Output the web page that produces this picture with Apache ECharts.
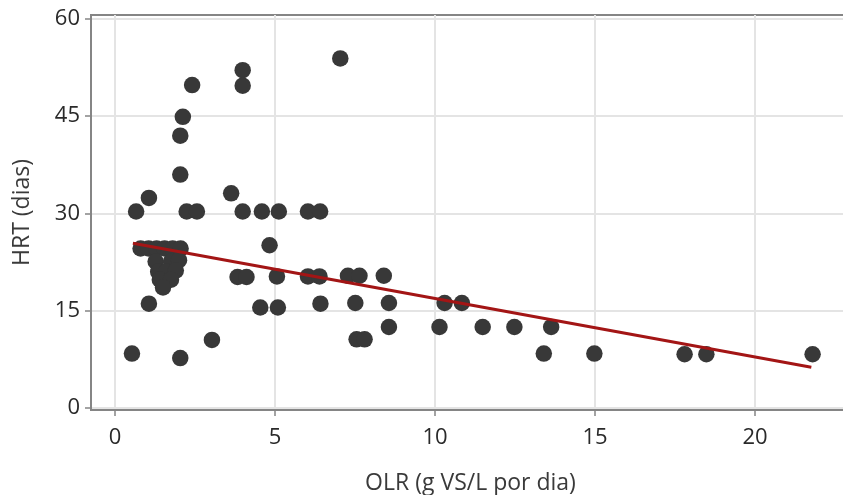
<!DOCTYPE html>
<html>
<head>
<meta charset="utf-8">
<script src="https://cdn.jsdelivr.net/npm/echarts@6/dist/echarts.min.js"></script>
<style>
html,body{margin:0;padding:0;background:#fff;overflow:hidden;}
#chart{width:843px;height:495px;}
</style>
</head>
<body>
<div id="chart"></div>
<script>
// OLR (g VS/L por dia)
const olr = [
  7.04, 3.99, 3.99, 2.41, 2.12, 2.04, 2.04, 3.63, 1.06, 0.66,
  2.24, 2.56, 3.99, 4.59, 5.12, 6.03, 6.41, 4.83, 3.83, 4.11,
  5.06, 6.03, 6.39, 7.28, 7.64, 8.40, 1.06, 4.54, 5.09, 6.42,
  7.51, 8.56, 10.30, 10.84, 8.56, 10.14, 11.49, 12.48, 13.63, 7.55,
  7.80, 3.03, 0.53, 2.04, 13.40, 14.98, 17.80, 18.48, 21.80,
  0.80, 1.05, 1.30, 1.55, 1.80, 2.05,
  1.27, 1.75, 2.00, 1.35, 1.60, 1.90, 1.40, 1.75, 1.50
];
// HRT (dias)
const hrt = [
  53.9, 52.1, 49.7, 49.8, 44.9, 42.0, 36.0, 33.1, 32.4, 30.3,
  30.3, 30.3, 30.3, 30.3, 30.3, 30.3, 30.3, 25.1, 20.2, 20.2,
  20.3, 20.3, 20.3, 20.4, 20.4, 20.4, 16.1, 15.5, 15.5, 16.1,
  16.2, 16.2, 16.2, 16.2, 12.5, 12.5, 12.5, 12.5, 12.5, 10.6,
  10.6, 10.5, 8.4, 7.7, 8.4, 8.4, 8.3, 8.3, 8.3,
  24.6, 24.6, 24.6, 24.6, 24.6, 24.6,
  22.6, 22.6, 22.8, 21.0, 21.0, 21.2, 19.8, 19.8, 18.6
];
// fitted trend line end points [olr, hrt]
const trendOlr = [0.56, 21.76];
const trendHrt = [25.4, 6.28];
const xTicks = [0, 5, 10, 15, 20];
const yTicks = [0, 15, 30, 45, 60];

const points = olr.map((v, i) => [v, hrt[i]]);
const trend = trendOlr.map((v, i) => [v, trendHrt[i]]);

const FONT = 'Open Sans';
const chart = echarts.init(document.getElementById('chart'), null, {renderer: 'canvas'});
chart.setOption({
  animation: false,
  backgroundColor: '#ffffff',
  grid: {
    left: 91, top: 15, width: 772, height: 395,
    outerBoundsMode: 'none',
    containLabel: false,
    show: true, borderColor: '#858585', borderWidth: 2, backgroundColor: 'transparent'
  },
  xAxis: {
    type: 'value',
    min: -0.75, max: 23.375,
    name: 'OLR (g VS/L por dia)',
    nameLocation: 'middle',
    nameGap: 62,
    nameTextStyle: {fontFamily: FONT, fontSize: 23, color: '#3a3a3a', padding: [0, 13, 0, 0]},
    axisLine: {show: true, onZero: false, lineStyle: {color: '#858585', width: 2}},
    axisTick: {show: true, length: 6, customValues: xTicks, lineStyle: {color: '#858585', width: 1.5}},
    axisLabel: {customValues: xTicks, margin: 17, fontFamily: FONT, fontSize: 22, color: '#2a2a2a'},
    splitLine: {show: true, lineStyle: {color: '#e4e4e4', width: 2}}
  },
  yAxis: {
    type: 'value',
    min: -0.3, max: 60.6,
    name: 'HRT (dias)',
    nameLocation: 'middle',
    nameGap: 57,
    nameTextStyle: {fontFamily: FONT, fontSize: 23, color: '#3a3a3a'},
    axisLine: {show: true, onZero: false, lineStyle: {color: '#858585', width: 2}},
    axisTick: {show: true, length: 6, customValues: yTicks, lineStyle: {color: '#858585', width: 1.5}},
    axisLabel: {customValues: yTicks, margin: 11, fontFamily: FONT, fontSize: 22, color: '#2a2a2a'},
    splitLine: {show: true, lineStyle: {color: '#e4e4e4', width: 2}}
  },
  series: [
    {
      type: 'scatter',
      data: points,
      symbol: 'circle',
      symbolSize: 16.5,
      itemStyle: {color: '#383838', opacity: 1},
      z: 2
    },
    {
      type: 'line',
      data: trend,
      symbol: 'none',
      lineStyle: {color: '#a31515', width: 3},
      z: 3
    }
  ]
});
</script>
</body>
</html>
